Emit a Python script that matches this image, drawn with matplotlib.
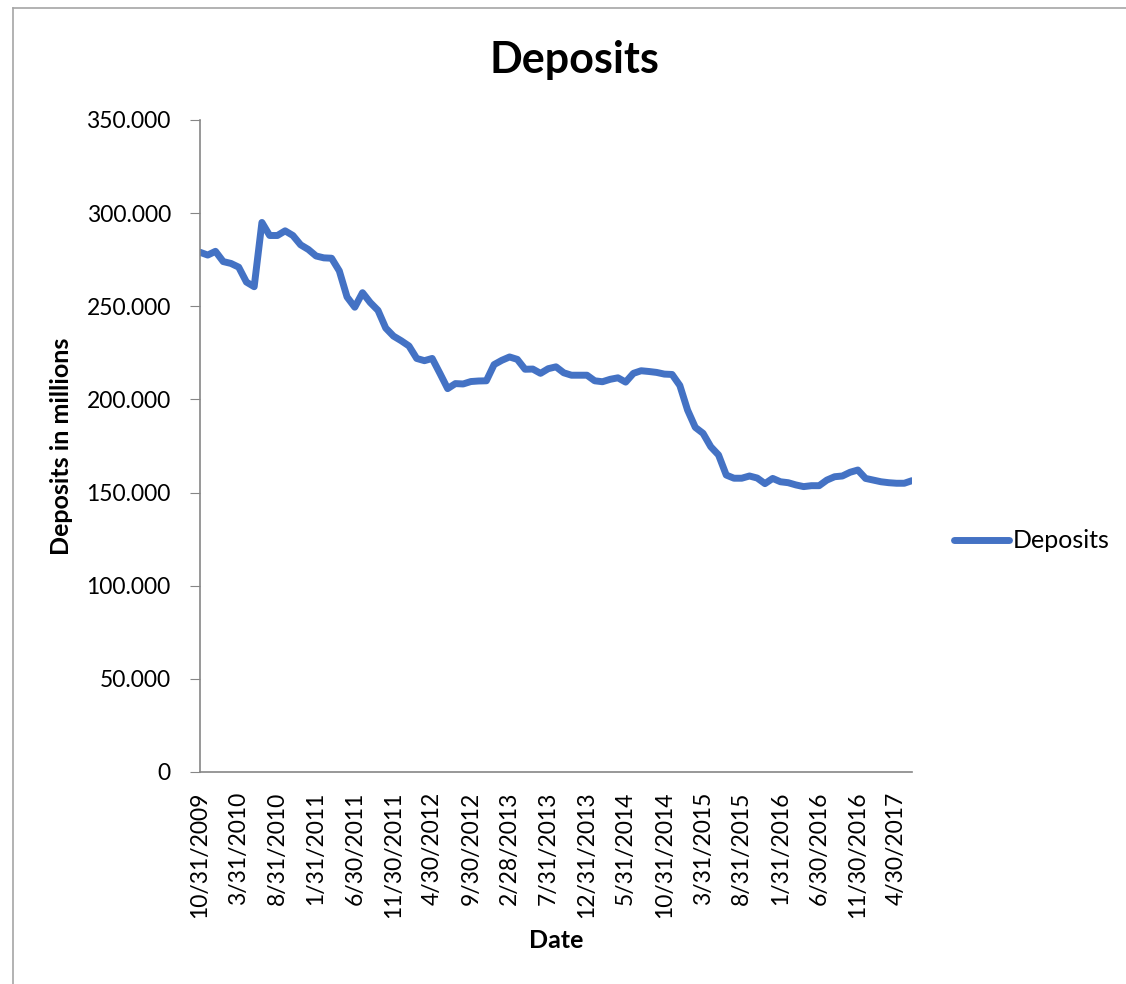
import matplotlib
matplotlib.use('Agg')
import matplotlib.pyplot as plt
from matplotlib.lines import Line2D
from matplotlib.ticker import FuncFormatter, FixedLocator
import pandas as pd

plt.rcParams['font.family'] = ['Lato', 'DejaVu Sans']

# Month-end dates, Oct 2009 .. Jun 2017
dates = pd.date_range('2009-10-01', periods=93, freq='MS') + pd.offsets.MonthEnd(0)

# Deposits in millions
deposits = [
    279.0, 277.5, 279.5, 274.0, 273.0, 271.0, 263.0, 260.5, 295.0, 288.0,
    288.0, 290.5, 288.0, 283.0, 280.5, 277.0, 276.0, 275.8, 269.0, 255.0,
    249.5, 257.3, 252.0, 247.8, 238.3, 234.0, 231.5, 228.7, 222.0, 220.8,
    222.0, 214.0, 205.8, 208.5, 208.3, 209.6, 209.9, 210.0, 218.7, 221.0,
    222.8, 221.5, 216.2, 216.3, 214.0, 216.5, 217.5, 214.3, 213.0, 213.0,
    213.0, 210.0, 209.5, 210.8, 211.6, 209.3, 214.0, 215.4, 215.0, 214.5,
    213.6, 213.4, 207.5, 194.3, 185.0, 181.8, 174.6, 170.2, 159.4, 157.7,
    157.7, 158.9, 157.8, 154.8, 157.6, 155.8, 155.3, 154.1, 153.2, 153.7,
    153.7, 156.7, 158.5, 158.9, 160.9, 162.1, 157.6, 156.7, 155.8, 155.3,
    155.0, 155.0, 156.4,
]
labels = [f'{d.month}/{d.day}/{d.year}' for d in dates]
yticks = [0, 50, 100, 150, 200, 250, 300, 350]

fig = plt.figure(figsize=(11.26, 9.84), dpi=100)
ax = fig.add_axes([200 / 1126, 1 - 772 / 984, (912 - 200) / 1126, (772 - 120) / 984])

x = list(range(len(deposits)))
ax.plot(x, deposits, color='#4472C4', lw=5, solid_capstyle='round',
        solid_joinstyle='round', label='Deposits')

ax.set_xlim(0, len(deposits) - 1)
ax.set_ylim(0, 350)
ax.set_yticks(yticks)
ax.yaxis.set_major_formatter(FuncFormatter(lambda v, p: '0' if v == 0 else f'{v:.3f}'))
ax.xaxis.set_major_locator(FixedLocator(x[::5]))
ax.set_xticklabels(labels[::5], rotation=90)

for s in ['top', 'right']:
    ax.spines[s].set_visible(False)
for s in ['left', 'bottom']:
    ax.spines[s].set_color('#868686')
    ax.spines[s].set_linewidth(1.2)
ax.tick_params(axis='y', length=7, color='#868686', labelsize=16.5, pad=14)
ax.tick_params(axis='x', length=0, labelsize=16.5, pad=14)

ax.set_ylabel('Deposits in millions', fontsize=18, fontweight='bold', labelpad=10)
ax.set_xlabel('Date', fontsize=18, fontweight='bold', labelpad=8)
fig.text(574 / 1126, 1 - 60 / 984, 'Deposits', fontsize=31, fontweight='bold',
         ha='center', va='center')

ax.legend(loc='center left', bbox_to_anchor=(954 / 1126, 1 - 541 / 984),
          bbox_transform=fig.transFigure, frameon=False, fontsize=18,
          handlelength=2.2, handletextpad=0.15, borderpad=0, borderaxespad=0)

# outer chart border
fig.add_artist(Line2D([13 / 1126, 1], [1 - 8 / 984, 1 - 8 / 984], color='#a6a6a6', lw=1.2))
fig.add_artist(Line2D([13 / 1126, 13 / 1126], [0, 1 - 8 / 984], color='#a6a6a6', lw=1.2))

fig.savefig('out.png', dpi=100)
